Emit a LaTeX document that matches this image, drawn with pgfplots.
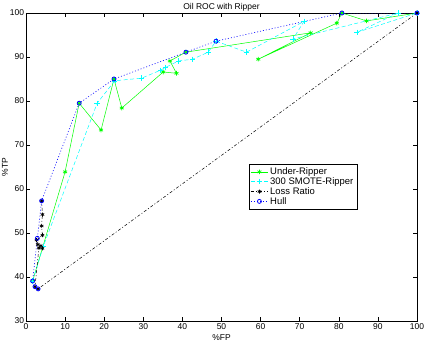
\documentclass[border=0pt]{standalone}
\usepackage{pgfplots}
\pgfplotsset{compat=1.18}
\usepackage{fontspec}
\setmainfont{Liberation Sans}
\begin{document}
\begin{tikzpicture}
\useasboundingbox (-26bp,-21bp) rectangle (399bp,321bp);
\begin{axis}[
  at={(0,0)}, anchor=south west,
  scale only axis, width=391bp, height=308bp,
  xmin=0, xmax=100, ymin=30, ymax=100,
  xtick={0,10,...,100}, ytick={30,40,...,100},
  tick align=inside, tick pos=both,
  major tick length=4bp,
  axis line style={line width=0.5pt},
  every tick/.style={black, line width=0.5pt},
  font=\fontsize{8.5}{10}\selectfont,
  tick label style={font=\fontsize{8.5}{10}\selectfont},
  /pgf/number format/assume math mode=true,
  xticklabel style={yshift=1pt},
  yticklabel style={xshift=1.5pt},
  every axis title shift=0pt,
  title={Oil ROC with Ripper},
  title style={at={(0.5,1)}, anchor=south, inner sep=0pt, yshift=1.5pt, font=\fontsize{8.5}{10}\selectfont},
  xlabel={\%FP},
  xlabel style={at={(0.5,0)}, anchor=north, inner sep=0pt, yshift=-13bp, font=\fontsize{8.5}{10}\selectfont},
  ylabel={\%TP},
  ylabel style={at={(0,0.5)}, anchor=south, inner sep=0pt, yshift=18bp, font=\fontsize{8.5}{10}\selectfont},
  legend style={at={(axis cs:57,65.7)}, anchor=north west, draw=black, fill=white,
    font=\fontsize{9.5}{10.5}\selectfont, inner sep=1.5pt, row sep=-2.5pt, line width=0.5pt},
  legend cell align=left,
]
\addplot[color={rgb,1:red,0;green,1;blue,0}, line width=0.5pt, mark=asterisk, mark size=2.3pt, mark options={line width=0.7pt}] coordinates {
(1.7,39.1) (10,63.9) (13.6,79.5) (19.2,73.4) (22.5,85) (24.5,78.4) (35.1,86.6) (38.5,86.3) (36.8,89.1) (40.9,91.1) (72.8,95.5) (59.4,89.5) (79.5,97.7) (80.8,100) (87.1,98.2) (100,100)
};
\addlegendentry{Under-Ripper}
\addplot[color={rgb,1:red,0;green,1;blue,1}, line width=0.5pt, dash pattern=on 4pt off 2.5pt, mark=+, mark size=2.7pt, mark options={solid}] coordinates {
(1.7,39.1) (4.4,46.9) (18.2,79.5) (22.7,84.6) (29.6,85.2) (34.4,87) (35.6,87.6) (39,89.1) (42.6,89.5) (46.6,91.1) (48.6,93.6) (56.4,91.1) (71.1,98.1) (68.3,94.1) (95.2,100) (84.6,95.6) (100,100)
};
\addlegendentry{300 SMOTE-Ripper}
\addplot[color=black, line width=0.5pt, dash pattern=on 3pt off 2pt on 1pt off 2pt, mark=asterisk, mark size=2pt, mark options={solid, line width=0.7pt}] coordinates {
(100,100) (3.1,37.3) (2.3,37.8) (3.3,46.6) (4.2,46.5) (3.8,47.1) (3.0,47.4) (2.7,48.4) (4.2,49.5) (4.0,51.6) (4.2,54.2) (4.0,57.3)
};
\addlegendentry{Loss Ratio}
\addplot[color=blue, line width=0.6pt, dash pattern=on 1pt off 2pt, mark=o, mark size=2pt, mark options={solid, line width=0.8pt}] coordinates {
(3.1,37.3) (2.3,37.8) (1.7,39.1) (2.9,48.8) (4.0,57.3) (13.6,79.5) (22.5,85) (40.9,91.1) (48.6,93.6) (80.8,100) (100,100)
};
\addlegendentry{Hull}
\end{axis}
\end{tikzpicture}
\end{document}
